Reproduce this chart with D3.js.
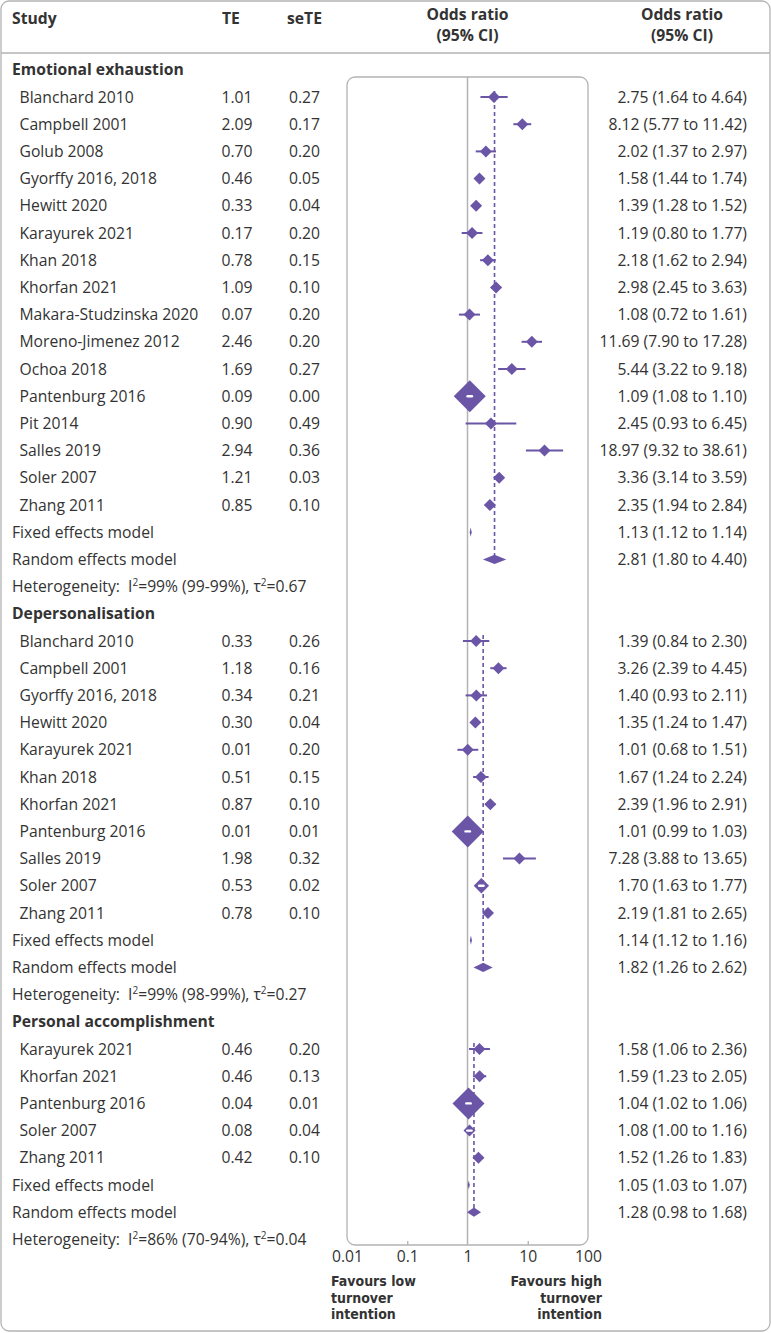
<!DOCTYPE html>
<html><head><meta charset="utf-8">
<script src="https://cdn.jsdelivr.net/npm/d3@7"></script>
<style>
html,body{margin:0;padding:0;background:#fff;}
text{font-family:"Open Sans","Noto Sans",sans-serif;fill:#333;}
</style></head>
<body><svg id="c" width="771" height="1333"></svg>
<script>
// ---------- DATA ----------
const groupNames = ["Emotional exhaustion", "Depersonalisation", "Personal accomplishment"];

const eeStudies = ["Blanchard 2010","Campbell 2001","Golub 2008","Gyorffy 2016, 2018","Hewitt 2020","Karayurek 2021","Khan 2018","Khorfan 2021","Makara-Studzinska 2020","Moreno-Jimenez 2012","Ochoa 2018","Pantenburg 2016","Pit 2014","Salles 2019","Soler 2007","Zhang 2011"];
const eeTE   = [1.01,2.09,0.70,0.46,0.33,0.17,0.78,1.09,0.07,2.46,1.69,0.09,0.90,2.94,1.21,0.85];
const eeSeTE = [0.27,0.17,0.20,0.05,0.04,0.20,0.15,0.10,0.20,0.20,0.27,0.00,0.49,0.36,0.03,0.10];
const eeOR   = [2.75,8.12,2.02,1.58,1.39,1.19,2.18,2.98,1.08,11.69,5.44,1.09,2.45,18.97,3.36,2.35];
const eeLo   = [1.64,5.77,1.37,1.44,1.28,0.80,1.62,2.45,0.72,7.90,3.22,1.08,0.93,9.32,3.14,1.94];
const eeHi   = [4.64,11.42,2.97,1.74,1.52,1.77,2.94,3.63,1.61,17.28,9.18,1.10,6.45,38.61,3.59,2.84];

const dpStudies = ["Blanchard 2010","Campbell 2001","Gyorffy 2016, 2018","Hewitt 2020","Karayurek 2021","Khan 2018","Khorfan 2021","Pantenburg 2016","Salles 2019","Soler 2007","Zhang 2011"];
const dpTE   = [0.33,1.18,0.34,0.30,0.01,0.51,0.87,0.01,1.98,0.53,0.78];
const dpSeTE = [0.26,0.16,0.21,0.04,0.20,0.15,0.10,0.01,0.32,0.02,0.10];
const dpOR   = [1.39,3.26,1.40,1.35,1.01,1.67,2.39,1.01,7.28,1.70,2.19];
const dpLo   = [0.84,2.39,0.93,1.24,0.68,1.24,1.96,0.99,3.88,1.63,1.81];
const dpHi   = [2.30,4.45,2.11,1.47,1.51,2.24,2.91,1.03,13.65,1.77,2.65];

const paStudies = ["Karayurek 2021","Khorfan 2021","Pantenburg 2016","Soler 2007","Zhang 2011"];
const paTE   = [0.46,0.46,0.04,0.08,0.42];
const paSeTE = [0.20,0.13,0.01,0.04,0.10];
const paOR   = [1.58,1.59,1.04,1.08,1.52];
const paLo   = [1.06,1.23,1.02,1.00,1.26];
const paHi   = [2.36,2.05,1.06,1.16,1.83];

// pooled: [OR, lower, upper]
const fixedEff  = [[1.13,1.12,1.14],[1.14,1.12,1.16],[1.05,1.03,1.07]];
const randomEff = [[2.81,1.80,4.40],[1.82,1.26,2.62],[1.28,0.98,1.68]];
// heterogeneity: [I2, I2 interval, tau2]
const hetero = [["99%","99-99%","0.67"],["99%","98-99%","0.27"],["86%","70-94%","0.04"]];

const tickValues = [0.01,0.1,1,10,100];
const tickLabels = ["0.01","0.1","1","10","100"];
const favoursLow  = ["Favours low","turnover","intention"];
const favoursHigh = ["Favours high","turnover","intention"];

// ---------- BUILD ----------
const groups = [
  {name:groupNames[0], s:eeStudies, te:eeTE, se:eeSeTE, or:eeOR, lo:eeLo, hi:eeHi},
  {name:groupNames[1], s:dpStudies, te:dpTE, se:dpSeTE, or:dpOR, lo:dpLo, hi:dpHi},
  {name:groupNames[2], s:paStudies, te:paTE, se:paSeTE, or:paOR, lo:paLo, hi:paHi}
];
const rows = [];
groups.forEach((g,gi)=>{
  rows.push({type:"group", label:g.name});
  const w = g.lo.map((l,i)=>{const s=(Math.log(g.hi[i])-Math.log(l))/3.92; return 1/(s*s);});
  const wmax = d3.max(w);
  const first = rows.length;
  g.s.forEach((name,i)=>rows.push({type:"study", label:name, te:g.te[i], se:g.se[i], or:g.or[i], lo:g.lo[i], hi:g.hi[i], w:w[i]/wmax, gi}));
  rows.push({type:"fixed", label:"Fixed effects model", or:fixedEff[gi][0], lo:fixedEff[gi][1], hi:fixedEff[gi][2], gi});
  rows.push({type:"random", label:"Random effects model", or:randomEff[gi][0], lo:randomEff[gi][1], hi:randomEff[gi][2], gi, first});
  rows.push({type:"het", h:hetero[gi]});
});

const svg = d3.select("#c");
const purple = "#6b55a6";
const fmt = d3.format(".2f");
const y = d3.scaleLinear().domain([0,1]).range([69.8, 97.0]);
const x = d3.scaleLog().domain([0.01,100]).range([347,588]);
const fs = 15.7;
const grey = "#b3b3b3";
const ff = "'Open Sans','Noto Sans',sans-serif";

// outer frame
svg.append("rect").attr("x",1).attr("y",1).attr("width",769).attr("height",1330).attr("rx",8)
  .attr("fill","none").attr("stroke",grey).attr("stroke-width",1.3);
svg.append("line").attr("x1",1).attr("x2",770).attr("y1",53).attr("y2",53).attr("stroke",grey).attr("stroke-width",1.3);

// headers
const hdr = svg.append("g").attr("font-weight","bold").attr("font-size",fs);
hdr.append("text").attr("x",12).attr("y",23.5).text("Study");
hdr.append("text").attr("x",222).attr("y",23.5).text("TE");
hdr.append("text").attr("x",287).attr("y",23.5).text("seTE");
[467.5, 682].forEach(cx=>{
  hdr.append("text").attr("x",cx).attr("y",19.8).attr("text-anchor","middle").text("Odds ratio");
  hdr.append("text").attr("x",cx).attr("y",41.4).attr("text-anchor","middle").text("(95% CI)");
});

// panel
const pTop = 77, pBot = 1245;
svg.append("rect").attr("x",x(0.01)).attr("y",pTop).attr("width",x(100)-x(0.01)).attr("height",pBot-pTop).attr("rx",8)
  .attr("fill","none").attr("stroke",grey).attr("stroke-width",1.3);
svg.append("line").attr("x1",x(1)).attr("x2",x(1)).attr("y1",pTop).attr("y2",pBot).attr("stroke",grey).attr("stroke-width",1.5);

// axis
const axis = d3.axisBottom(x).tickValues(tickValues).tickFormat((d,i)=>tickLabels[i]).tickSize(-4).tickPadding(8);
const ag = svg.append("g").attr("transform",`translate(0,${pBot})`).call(axis);
ag.select(".domain").remove();
ag.selectAll(".tick line").attr("stroke",grey).attr("stroke-width",1.3)
  .filter(d=>d===0.01||d===100||d===1).remove();
ag.selectAll(".tick text").attr("font-size",fs).attr("font-family",ff).attr("fill","#333").attr("dy","0.32em").attr("y",12);

// favours labels (compact font so the three stacked lines keep the tight leading)
const fav = svg.append("g").attr("font-weight","bold").attr("font-size",14);
const fl = fav.append("text").attr("x",331).attr("y",1286);
favoursLow.forEach((t,i)=>fl.append("tspan").attr("x",331).attr("dy",i?16.5:0).text(t));
const fh = fav.append("text").attr("x",602).attr("y",1286).attr("text-anchor","end");
favoursHigh.forEach((t,i)=>fh.append("tspan").attr("x",602).attr("dy",i?16.5:0).text(t));
fav.selectAll("text").style("font-family","'DejaVu Sans Condensed','DejaVu Sans',sans-serif");

// dashed random lines
rows.forEach((r,i)=>{
  if(r.type!=="random") return;
  svg.append("line").attr("x1",x(r.or)).attr("x2",x(r.or)).attr("y1",y(r.first)-6).attr("y2",y(i))
    .attr("stroke",purple).attr("stroke-width",1.6).attr("stroke-dasharray","4,3");
});

// rows
const tg = svg.append("g").attr("font-size",fs);
rows.forEach((r,i)=>{
  const cy = y(i), by = cy+5.5;
  if(r.type==="group"){
    tg.append("text").attr("x",12).attr("y",by).attr("font-weight","bold").text(r.label);
  } else if(r.type==="study"){
    tg.append("text").attr("x",19.5).attr("y",by).text(r.label);
    tg.append("text").attr("x",221.5).attr("y",by).text(fmt(r.te));
    tg.append("text").attr("x",289).attr("y",by).text(fmt(r.se));
    tg.append("text").attr("x",747).attr("y",by).attr("text-anchor","end").text(`${fmt(r.or)} (${fmt(r.lo)} to ${fmt(r.hi)})`);
    const cx = x(r.or), x1 = x(r.lo), x2 = x(r.hi);
    const s = Math.max(6, 16*Math.sqrt(r.w));
    svg.append("line").attr("x1",x1).attr("x2",x2).attr("y1",cy).attr("y2",cy).attr("stroke",purple).attr("stroke-width",2);
    svg.append("path").attr("d",`M${cx-s},${cy}L${cx},${cy-s}L${cx+s},${cy}L${cx},${cy+s}Z`).attr("fill",purple);
    if(x2-x1 < 4.2 && r.w > 0.03){
      const hw = Math.max((x2-x1)/2, 2.2);
      const mx = (x1+x2)/2;
      svg.append("line").attr("x1",mx-hw).attr("x2",mx+hw).attr("y1",cy).attr("y2",cy)
        .attr("stroke","#fff").attr("stroke-width",2.4).attr("stroke-linecap","round");
    }
  } else if(r.type==="fixed"||r.type==="random"){
    tg.append("text").attr("x",12).attr("y",by).text(r.label);
    tg.append("text").attr("x",747).attr("y",by).attr("text-anchor","end").text(`${fmt(r.or)} (${fmt(r.lo)} to ${fmt(r.hi)})`);
    const x1 = Math.min(x(r.lo), x(r.or)-1), x2 = Math.max(x(r.hi), x(r.or)+1), h = 4.6;
    svg.append("path").attr("d",`M${x1},${cy}L${x(r.or)},${cy-h}L${x2},${cy}L${x(r.or)},${cy+h}Z`).attr("fill",purple);
  } else if(r.type==="het"){
    const t = tg.append("text").attr("x",12).attr("y",by).attr("xml:space","preserve");
    t.append("tspan").text("Heterogeneity:  I");
    t.append("tspan").attr("font-size",10).attr("dy",-6).text("2");
    t.append("tspan").attr("dy",6).text(`=${r.h[0]} (${r.h[1]}), τ`);
    t.append("tspan").attr("font-size",10).attr("dy",-6).text("2");
    t.append("tspan").attr("dy",6).text(`=${r.h[2]}`);
  }
});
</script></body></html>
